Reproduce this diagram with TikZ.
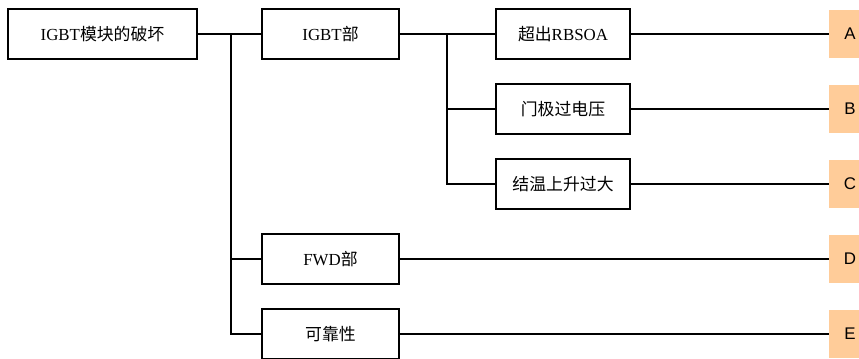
\documentclass[tikz,border=0pt]{standalone}
\usepackage{fontspec}
\setmainfont{Liberation Serif}
\newfontfamily\cjk{Noto Sans CJK SC}
\newfontfamily\lettersans{Liberation Sans}
\usetikzlibrary{positioning}

\begin{document}
\begin{tikzpicture}[x=0.025cm, y=-0.025cm,
    cause/.style={draw, line width=1.3pt, minimum height=1.25cm, inner sep=0pt, font=\fontsize{12}{14}\selectfont},
    rootbox/.style={cause, minimum width=4.725cm},
    partbox/.style={cause, minimum width=3.425cm},
    modebox/.style={cause, minimum width=3.35cm},
    tag/.style={fill=tagorange, minimum width=1.05cm, minimum height=1.2cm, inner sep=0pt, font=\lettersans\fontsize{12}{14}\selectfont},
    link/.style={line width=1.3pt}]
    \definecolor{tagorange}{RGB}{255,204,153}
    \useasboundingbox (0,0) rectangle (859,358);
    \clip (0,0) rectangle (859,358);

    % left column
    \node[rootbox] (root) at (102.5,34) {IGBT{\cjk 模块的破坏}};

    % parts
    \node[partbox] (igbt) at (330.5,34) {IGBT{\cjk 部}};
    \node[partbox] (fwd) at (330.5,259) {FWD{\cjk 部}};
    \node[partbox] (rel) at (330.5,334) {\cjk 可靠性};

    % failure modes of the IGBT part
    \node[modebox] (rbsoa) at (563,34) {{\cjk 超出}RBSOA};
    \node[modebox] (gate) at (563,109) {\cjk 门极过电压};
    \node[modebox] (temp) at (563,184) {\cjk 结温上升过大};

    % letter tags
    \node[tag] (tagA) at (850,34) {A};
    \node[tag] (tagB) at (850,109) {B};
    \node[tag] (tagC) at (850,184) {C};
    \node[tag] (tagD) at (850,259) {D};
    \node[tag] (tagE) at (850,334) {E};

    % branch points
    \coordinate (j1) at (231,34);
    \coordinate (j2) at (447,34);

    \draw[link] (root) -- (igbt);
    \draw[link] (j1) |- (fwd.west);
    \draw[link] (j1) |- (rel.west);

    \draw[link] (igbt) -- (rbsoa);
    \draw[link] (j2) |- (gate.west);
    \draw[link] (j2) |- (temp.west);

    \draw[link] (rbsoa) -- (tagA);
    \draw[link] (gate) -- (tagB);
    \draw[link] (temp) -- (tagC);
    \draw[link] (fwd) -- (tagD);
    \draw[link] (rel) -- (tagE);
\end{tikzpicture}
\end{document}
